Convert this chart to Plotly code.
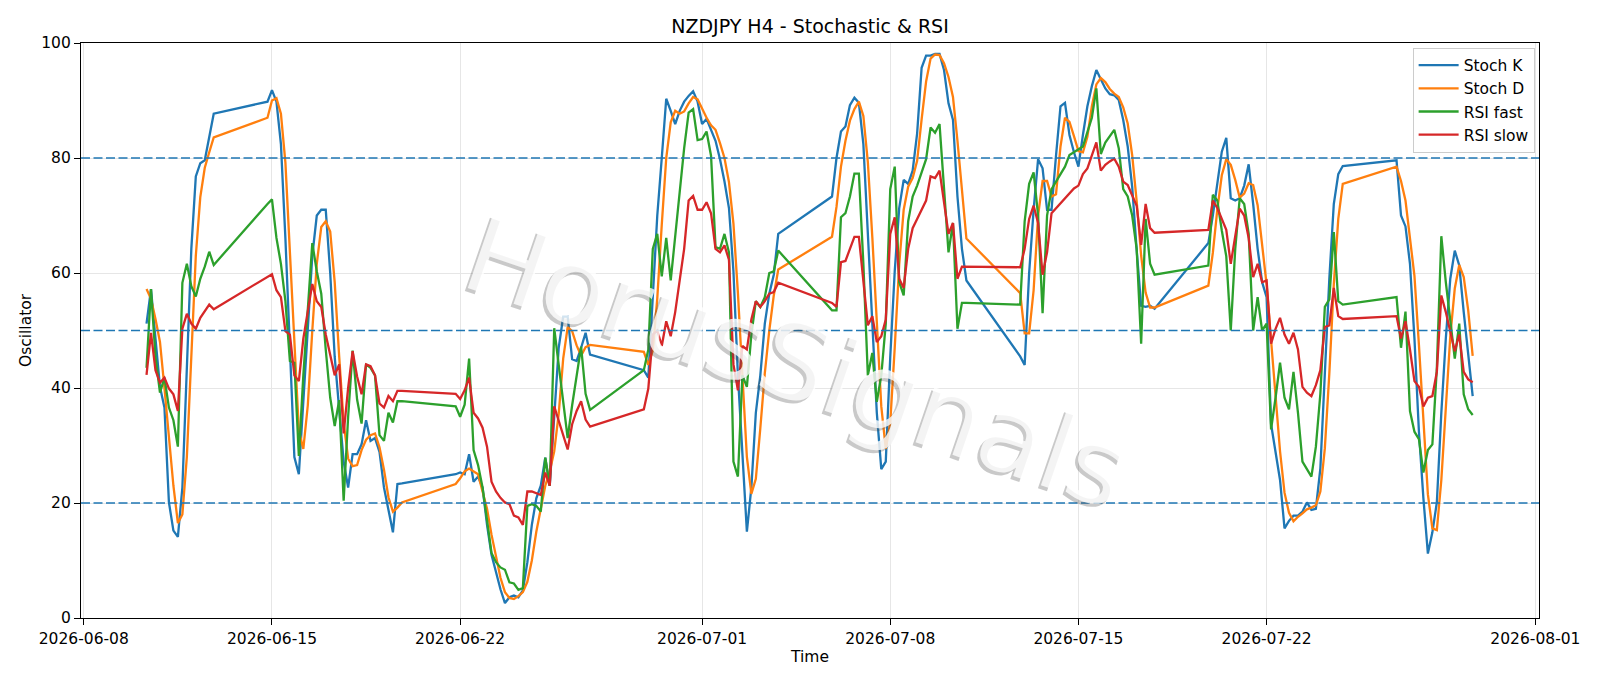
import pandas as pd
import plotly.graph_objects as go

# ---- time axis: H4 bars, one list entry per trading session (week) ----
session_starts = ["2026-06-10 08:00", "2026-06-14 20:00", "2026-06-21 20:00", "2026-06-28 20:00",
                  "2026-07-05 20:00", "2026-07-12 20:00", "2026-07-19 20:00", "2026-07-26 20:00"]
session_bars = [16, 31, 31, 31, 31, 31, 31, 18]

# ---- series values, grouped by session ----
stoch_k = [
    51.2, 57.2, 48.6, 40.2, 36.6, 20.1, 15.2, 14.1, 22.7, 44.0, 64.2, 76.8, 79.1, 79.6, 83.7, 87.7,
    89.8, 91.8, 89.8, 82.4, 66.0, 45.4, 28.0, 25.0, 38.0, 52.0, 63.0, 70.0, 71.0, 71.0, 60.0, 45.4,
    35.7, 27.2, 22.7, 28.5, 28.5, 30.2, 34.4, 30.8, 31.3, 28.9, 22.7, 18.8, 14.9, 23.3, 23.4,
    25.0, 25.3, 25.0, 28.5, 23.7, 24.6, 22.7, 16.2, 11.0, 8.0, 5.0, 2.6, 3.6, 3.9, 3.6, 4.8,
    9.7, 16.2, 20.8, 23.0, 27.9, 23.0, 36.0, 47.0, 52.4, 52.4, 45.0, 44.7, 47.0, 49.6, 45.8,
    43.1, 41.8, 55.0, 70.0, 80.0, 90.3, 88.2, 85.9, 88.2, 89.8, 90.8, 91.6, 89.8, 85.9, 86.8, 85.0,
    83.0, 79.8, 75.9, 71.3, 60.3, 42.2, 29.2, 15.0, 22.7, 35.7, 42.2, 51.2, 56.4, 59.7, 66.8,
    73.3, 80.0, 84.6, 85.5, 89.2, 90.5, 89.6, 82.4, 66.8, 50.0, 35.7, 25.9, 27.2, 45.4, 60.3, 71.3,
    76.2, 75.5, 77.8, 84.3, 95.7, 97.8, 97.8, 98.1, 98.1, 95.3, 89.5, 86.6, 73.3, 64.2, 58.7,
    45.5, 44.0, 60.0, 71.0, 79.8, 78.2, 71.0, 71.0, 80.4, 89.0, 89.6, 84.0, 81.0, 78.5, 84.0, 89.0,
    92.5, 95.3, 93.7, 92.1, 91.1, 90.9, 90.1, 86.6, 82.0, 75.0, 64.0, 54.3, 54.1, 54.3, 53.8,
    65.2, 70.0, 75.2, 81.1, 83.5, 73.0, 72.6, 73.0, 75.2, 78.9, 72.0, 64.2, 58.4, 55.8, 33.7, 28.5,
    24.0, 15.6, 16.9, 17.8, 17.8, 18.5, 20.1, 18.8, 19.0, 26.0, 42.0, 59.0, 72.0, 77.2, 78.6,
    79.6, 70.0, 68.1, 61.6, 48.6, 32.4, 20.8, 11.2, 14.9, 20.1, 35.7, 48.6, 59.0, 63.9, 61.3, 53.2,
    46.1, 38.6,
]
stoch_d = [
    57.2, 55.5, 52.0, 48.0, 40.0, 31.0, 23.0, 16.5, 18.0, 28.0, 45.5, 63.0, 73.2, 78.3, 81.0, 83.6,
    87.0, 90.0, 90.4, 87.7, 79.2, 64.4, 47.5, 32.6, 29.4, 37.0, 50.0, 61.6, 68.0, 69.0, 67.2, 58.4,
    45.5, 34.0, 27.7, 26.4, 26.6, 29.2, 31.0, 31.8, 32.1, 29.7, 25.8, 21.0, 18.5, 19.2, 20.1,
    23.3, 24.3, 25.5, 26.0, 25.5, 25.0, 22.0, 19.0, 14.5, 10.5, 7.0, 4.5, 3.5, 3.3, 3.8, 4.5,
    6.3, 10.0, 15.0, 19.0, 23.0, 25.5, 29.0, 35.5, 45.1, 50.6, 49.9, 47.4, 45.6, 47.1, 47.5,
    46.3, 44.0, 46.5, 55.6, 68.4, 80.0, 86.2, 88.2, 87.7, 88.1, 89.5, 90.6, 90.2, 88.6, 87.0, 85.7,
    84.9, 82.6, 80.0, 75.8, 68.6, 56.5, 41.5, 28.0, 21.6, 24.2, 33.0, 42.6, 50.0, 56.1, 60.6,
    66.3, 71.5, 78.5, 83.0, 86.5, 88.5, 89.8, 87.3, 79.3, 66.2, 50.4, 36.8, 29.4, 34.0, 47.0, 61.5,
    71.0, 75.0, 76.5, 79.5, 86.7, 93.3, 97.3, 98.0, 97.9, 96.5, 94.1, 90.6, 83.0, 74.6, 66.0,
    56.5, 49.5, 49.5, 57.0, 70.0, 76.0, 76.0, 73.3, 73.7, 82.0, 87.0, 86.3, 83.8, 81.2, 81.0, 83.7,
    89.0, 92.8, 93.9, 93.2, 92.0, 91.2, 90.6, 88.8, 86.0, 80.5, 72.5, 63.0, 56.6, 54.0, 54.0,
    57.8, 63.5, 71.0, 77.0, 79.8, 78.8, 76.2, 73.1, 73.8, 75.6, 75.3, 71.8, 64.5, 58.0, 48.3, 38.8,
    29.0, 21.8, 18.3, 16.8, 17.6, 18.2, 18.9, 19.2, 19.6, 22.0, 29.5, 42.5, 58.0, 69.4, 75.5,
    78.5, 76.0, 72.6, 66.5, 59.5, 47.5, 34.0, 21.5, 15.6, 15.3, 24.0, 37.0, 49.0, 57.3, 61.4, 59.3,
    53.5, 45.6,
]
rsi_fast = [
    43.5, 57.2, 45.4, 39.2, 41.8, 36.6, 34.4, 29.8, 58.3, 61.6, 57.7, 55.9, 59.0, 61.1, 63.7, 61.4,
    72.0, 72.8, 66.1, 61.6, 55.1, 44.7, 44.4, 28.2, 42.2, 53.8, 65.2, 60.3, 56.4, 46.7, 38.3, 33.4,
    37.9, 20.4, 35.0, 46.5, 38.0, 33.8, 44.1, 43.5, 42.2, 31.8, 30.8, 35.7, 34.0, 37.7, 37.7,
    36.8, 35.0, 37.1, 45.1, 29.2, 26.6, 22.7, 16.9, 11.3, 9.7, 8.8, 8.4, 6.2, 6.0, 4.9, 5.2,
    19.5, 19.8, 19.5, 18.5, 27.9, 23.0, 50.4, 44.0, 37.5, 31.3, 37.0, 42.0, 47.2, 39.0, 36.2,
    43.1, 46.7, 64.2, 66.8, 59.4, 66.1, 58.7, 66.8, 74.6, 81.7, 87.9, 88.5, 83.1, 83.3, 84.6, 80.4,
    64.5, 64.2, 66.8, 63.6, 27.2, 24.6, 42.2, 40.2, 49.3, 55.1, 54.1, 55.8, 60.0, 60.3, 63.9,
    53.5, 53.5, 69.7, 70.4, 73.3, 77.3, 77.3, 61.6, 42.2, 46.1, 37.6, 42.2, 51.2, 74.6, 78.5, 58.4,
    56.1, 69.0, 73.3, 75.2, 77.5, 79.8, 85.3, 84.4, 85.9, 75.2, 63.6, 68.7, 50.3, 54.8, 54.8,
    54.5, 69.0, 75.5, 77.5, 70.0, 53.0, 70.0, 74.6, 75.9, 77.2, 78.5, 80.5, 81.0, 81.5, 82.0, 84.5,
    87.0, 92.1, 80.7, 82.7, 83.7, 84.9, 81.7, 74.6, 73.3, 70.0, 64.2, 47.7, 69.4, 61.6, 59.7,
    61.3, 73.6, 72.6, 67.4, 62.9, 50.0, 64.2, 73.0, 72.0, 66.8, 50.0, 55.8, 50.0, 51.2, 32.8, 38.3,
    44.4, 38.3, 36.3, 42.8, 35.7, 27.2, 25.9, 24.6, 29.8, 39.0, 54.1, 55.4, 67.1, 55.1, 54.5,
    55.8, 47.0, 53.3, 36.0, 32.4, 31.1, 25.3, 29.2, 30.2, 43.5, 66.4, 58.4, 51.2, 45.1, 51.2, 38.9,
    36.3, 35.3,
]
rsi_slow = [
    42.3, 49.6, 43.1, 40.9, 41.8, 39.9, 38.9, 36.0, 50.3, 52.9, 51.2, 50.3, 52.2, 53.3, 54.5, 53.7,
    59.3, 59.8, 57.0, 55.8, 49.9, 49.3, 42.2, 41.2, 48.6, 53.2, 58.1, 55.1, 54.1, 49.3, 46.0, 42.2,
    44.1, 32.1, 40.0, 46.4, 42.0, 38.9, 44.1, 43.8, 42.2, 37.3, 36.6, 38.6, 37.7, 39.5, 39.5,
    39.0, 38.1, 39.6, 41.8, 35.7, 34.7, 33.1, 29.8, 23.7, 22.0, 20.9, 20.1, 19.8, 17.8, 17.5, 16.2,
    22.0, 22.0, 21.7, 21.4, 25.3, 23.0, 36.8, 34.4, 31.8, 29.3, 33.7, 36.0, 37.7, 34.5, 33.3,
    36.3, 39.9, 49.3, 50.0, 47.3, 51.6, 49.0, 53.2, 59.0, 64.2, 72.6, 73.4, 71.0, 71.0, 72.3, 70.4,
    64.2, 63.6, 64.8, 62.3, 44.1, 39.6, 47.3, 46.7, 51.9, 55.1, 54.1, 55.1, 56.4, 56.7, 58.3,
    54.8, 54.1, 61.9, 62.1, 64.2, 66.3, 66.3, 59.0, 50.9, 52.5, 48.0, 49.0, 51.9, 66.8, 69.7, 59.0,
    57.4, 64.2, 67.8, 69.4, 71.0, 72.6, 76.8, 76.5, 77.8, 72.0, 66.8, 68.7, 59.0, 61.1, 61.1,
    61.0, 64.2, 69.4, 71.7, 68.7, 59.7, 63.6, 70.4, 71.3, 72.0, 72.9, 73.9, 74.7, 75.2, 77.2, 78.2,
    80.4, 82.7, 77.8, 78.8, 79.4, 79.9, 78.5, 75.9, 75.3, 73.6, 71.7, 64.9, 72.0, 67.8, 67.0,
    67.5, 72.6, 71.3, 69.4, 67.5, 61.6, 66.1, 71.2, 70.0, 66.1, 59.3, 61.6, 58.4, 58.7, 47.7, 50.3,
    52.2, 49.3, 47.7, 49.6, 46.7, 40.2, 39.2, 38.6, 40.5, 43.1, 50.6, 50.9, 57.4, 52.5, 52.0,
    52.5, 48.6, 51.6, 46.7, 41.2, 40.2, 36.8, 38.3, 38.6, 42.8, 56.1, 53.2, 49.9, 46.4, 49.3, 42.8,
    41.5, 41.0,
]

levels = [80, 50, 20]
x_ticks = ["2026-06-08", "2026-06-15", "2026-06-22", "2026-07-01",
           "2026-07-08", "2026-07-15", "2026-07-22", "2026-08-01"]
x_range = ["2026-06-07 21:30", "2026-08-01 03:12"]

times = []
for start, n in zip(session_starts, session_bars):
    times.extend(pd.date_range(start, periods=n, freq="4h"))

FONT = "DejaVu Sans"
series = [
    ("Stoch K", stoch_k, "#1f77b4"),
    ("Stoch D", stoch_d, "#ff7f0e"),
    ("RSI fast", rsi_fast, "#2ca02c"),
    ("RSI slow", rsi_slow, "#d62728"),
]

fig = go.Figure()
for name, vals, color in series:
    fig.add_trace(go.Scatter(x=times, y=vals, mode="lines", name=name,
                             line=dict(color=color, width=2.3)))

for lv in levels:
    fig.add_shape(type="line", xref="paper", x0=0, x1=1, yref="y", y0=lv, y1=lv,
                  line=dict(color="#1f77b4", width=1.5, dash="9px,3.5px"), layer="above")

# watermark: offset shadow + mostly opaque white text on top
wm_x, wm_y, wm_angle, wm_size = 0.4907, 0.4446, 19, 106
fig.add_annotation(text="HorusSignals", xref="paper", yref="paper", x=wm_x, y=wm_y,
                   xshift=-3, yshift=-3, showarrow=False, textangle=wm_angle,
                   font=dict(family=FONT, size=wm_size, color="rgba(77,77,77,0.3)"))
fig.add_annotation(text="HorusSignals", xref="paper", yref="paper", x=wm_x, y=wm_y,
                   showarrow=False, textangle=wm_angle,
                   font=dict(family=FONT, size=wm_size, color="rgba(255,255,255,0.8)"))

axis_common = dict(showline=True, mirror=True, linecolor="black", linewidth=1.1,
                   ticks="outside", ticklen=6, tickwidth=1.1, tickcolor="black",
                   showgrid=True, gridcolor="#e6e6e6", gridwidth=1.1, zeroline=False,
                   tickfont=dict(family=FONT, size=15.5, color="black"))

fig.update_layout(
    width=1600, height=686,
    margin=dict(l=81, r=61, t=43, b=68),
    paper_bgcolor="white", plot_bgcolor="white",
    font=dict(family=FONT, size=15.5, color="black"),
    title=dict(text="NZDJPY H4 - Stochastic & RSI", x=0.5, xref="paper", xanchor="center",
               y=1 - 26 / 686, yref="container", yanchor="middle",
               font=dict(family=FONT, size=19, color="black")),
    xaxis=dict(type="date", range=x_range, tickvals=x_ticks, tickformat="%Y-%m-%d",
               title=dict(text="Time", standoff=4, font=dict(family=FONT, size=15.5)),
               **axis_common),
    yaxis=dict(range=[0, 100], tickvals=[0, 20, 40, 60, 80, 100],
               title=dict(text="Oscillator", standoff=5, font=dict(family=FONT, size=15.5)),
               **axis_common),
    legend=dict(x=0.997, y=0.992, xanchor="right", yanchor="top", itemwidth=40,
                bgcolor="rgba(255,255,255,0.8)", bordercolor="#cccccc", borderwidth=1,
                font=dict(family=FONT, size=15.5, color="black")),
    showlegend=True,
)

fig.write_html("out.html")
